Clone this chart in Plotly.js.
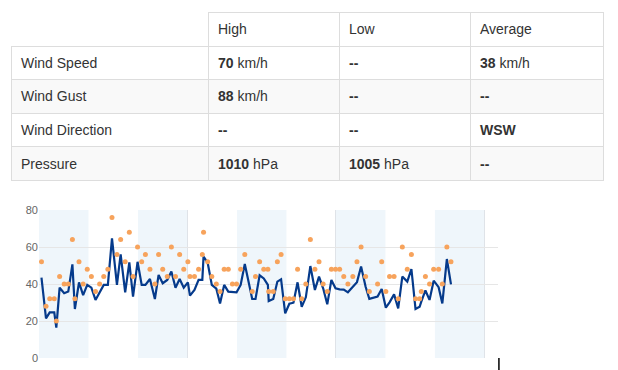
<!DOCTYPE html>
<html>
<head>
<meta charset="utf-8">
<script src="https://cdn.plot.ly/plotly-3.0.1.min.js"></script>
<style>
  html, body { margin: 0; padding: 0; background: #fff; width: 618px; height: 370px; overflow: hidden; }
  #chart { position: absolute; left: 0; top: 0; width: 618px; height: 370px; }
  #summary { position: absolute; left: 11px; top: 12px; z-index: 5; border-collapse: collapse; table-layout: fixed; width: 592px;
    font-family: "Liberation Sans", Arial, sans-serif; font-size: 14px; color: #333; }
  #summary td, #summary th { border: 1px solid #dddddd; padding: 0 9px; height: 32.6px; text-align: left; font-weight: normal; vertical-align: middle; white-space: nowrap; }
  #summary th.blank { border-top: none; border-left: none; }
  #summary tr.alt td { background: #f9f9f9; }
</style>
</head>
<body>
<div id="chart"></div>
<table id="summary"></table>
<script>
// ---- table data ----
const tableHeaders = ['', 'High', 'Low', 'Average'];
const rowLabels = ['Wind Speed', 'Wind Gust', 'Wind Direction', 'Pressure'];
const highVals = ['70', '88', null, '1010'];
const lowVals = [null, null, null, '1005'];
const avgVals = ['38', null, 'WSW', null];
const units = ['km/h', 'km/h', '', 'hPa'];

// ---- chart data (hours from start) ----
const hours = [0.6,1.7,2.6,3.7,4.2,5.0,6.1,7.1,8.1,8.7,
  9.7,10.7,11.7,12.7,13.7,14.7,15.7,16.7,17.7,18.9,
  19.8,20.9,21.9,22.8,23.9,24.9,25.8,26.9,28.1,29.0,
  30.0,31.1,32.1,33.1,34.1,35.1,36.1,36.6,37.7,38.7,
  39.6,39.9,40.9,41.9,43.0,43.9,44.9,45.9,46.9,47.9,
  48.9,49.9,51.7,52.5,53.5,54.5,55.5,55.7,56.8,57.8,
  58.7,59.7,60.7,61.7,62.7,63.7,64.7,65.8,66.9,67.9,
  68.9,69.9,70.9,71.9,72.9,73.9,74.9,76.1,77.1,78.1,
  79.2,80.1,82.1,83.1,84.1,85.0,86.1,87.1,88.1,89.3,
  90.3,91.3,92.3,92.7,93.7,94.7,95.7,96.9,97.8,98.9,
  99.9];
const windSpeed = [43.4,21.4,24.7,24.7,16.4,38,35,35.9,50.6,26.5,
  40.9,34,39.5,38,31.4,35.3,39.5,39.5,64.7,39.5,
  56,35.5,51.7,33.2,52,39.5,39.5,42.7,31.9,44.9,
  40.4,42.2,46.7,38,42.7,38,40.9,33.7,36.8,42.2,
  42.2,54.8,51.5,39.5,37.5,29.5,39.5,35.9,35.7,35.5,
  39.5,50.8,31.9,31.9,44.7,43,39.5,30.8,31.9,41.3,
  42.5,24.1,29.3,29.9,40.9,27.7,32.8,49.7,36.8,44,
  37.7,29,42.2,37.7,37.1,37,35.5,38.3,41,49.4,
  38.5,32,33.2,37.3,27.2,30.1,34.4,26.8,44,41.3,
  48.1,26.5,27.7,30.5,36.5,31.4,41.8,38.3,29.5,53.5,
  39.8];
const windGust = [52,28,32,32,20,44,40,40,64,32,
  52,40,48,44,36,40,44,48,76,56,
  64,52,68,44,60,52,56,48,40,56,
  48,44,60,44,56,48,52,44,44,48,
  56,68,52,44,40,36,48,48,40,40,
  48,56,36,44,52,48,48,36,36,52,
  56,32,32,32,48,32,40,64,48,52,
  40,36,48,48,48,44,40,44,52,60,
  44,36,40,52,36,44,44,32,60,48,
  56,32,32,36,44,40,48,48,40,60,
  52];
const yTicks = [0, 20, 40, 60, 80];
const bandStarts = [0, 24, 48, 72, 96];
const bandLength = 12;
const xEnd = 111.3;

// ---- build table ----
function cellHtml(v, u) {
  if (v === null) return '<b>--</b>';
  return '<b>' + v + '</b>' + (u ? ' ' + u : '');
}
const tbl = document.getElementById('summary');
let html = '<colgroup><col style="width:197px"><col style="width:131px"><col style="width:131px"><col style="width:133px"></colgroup>';
html += '<tr>' + tableHeaders.map((h, i) => '<th' + (i === 0 ? ' class="blank"' : '') + '>' + h + '</th>').join('') + '</tr>';
rowLabels.forEach((lab, r) => {
  html += '<tr' + (r % 2 === 1 ? ' class="alt"' : '') + '><td>' + lab + '</td><td>' + cellHtml(highVals[r], units[r]) +
    '</td><td>' + cellHtml(lowVals[r], units[r]) + '</td><td>' + cellHtml(avgVals[r], r === 2 ? '' : units[r]) + '</td></tr>';
});
tbl.innerHTML = html;

// ---- chart ----
const shapes = bandStarts.map(s => ({
  type: 'rect', xref: 'x', yref: 'paper', x0: s, x1: s + bandLength, y0: 0, y1: 1,
  fillcolor: 'rgb(239,246,251)', line: { width: 0 }, layer: 'below'
}));
shapes.push({ type: 'line', xref: 'paper', yref: 'paper', x0: 1.002, x1: 1.002, y0: 0, y1: -0.09,
  line: { color: '#000', width: 1.5 } });

const traces = [
  { x: hours, y: windSpeed, type: 'scatter', mode: 'lines', name: 'Wind Speed',
    line: { color: '#053a8b', width: 2.2 }, hoverinfo: 'skip' },
  { x: hours, y: windGust, type: 'scatter', mode: 'markers', name: 'Wind Gust',
    marker: { color: '#f7a35c', size: 5 }, hoverinfo: 'skip' }
];

const layout = {
  width: 618, height: 370,
  margin: { l: 39, r: 120, t: 210, b: 12, pad: 0 },
  paper_bgcolor: 'rgba(0,0,0,0)', plot_bgcolor: '#fff',
  showlegend: false,
  font: { family: '"Liberation Sans", Arial, sans-serif', color: '#666', size: 11 },
  xaxis: { range: [0, xEnd], showticklabels: false, tick0: 0, dtick: 36, showgrid: true,
    gridcolor: '#dfe3e8', zeroline: false, showline: false, ticks: '', fixedrange: true },
  yaxis: { range: [0, 80], tickvals: yTicks, showgrid: true, gridcolor: '#e6e6e6',
    zeroline: false, showline: false, ticks: '', tickfont: { size: 11, color: '#666' }, fixedrange: true },
  shapes: shapes
};
Plotly.newPlot('chart', traces, layout, { displayModeBar: false, staticPlot: true });
</script>
</body>
</html>
